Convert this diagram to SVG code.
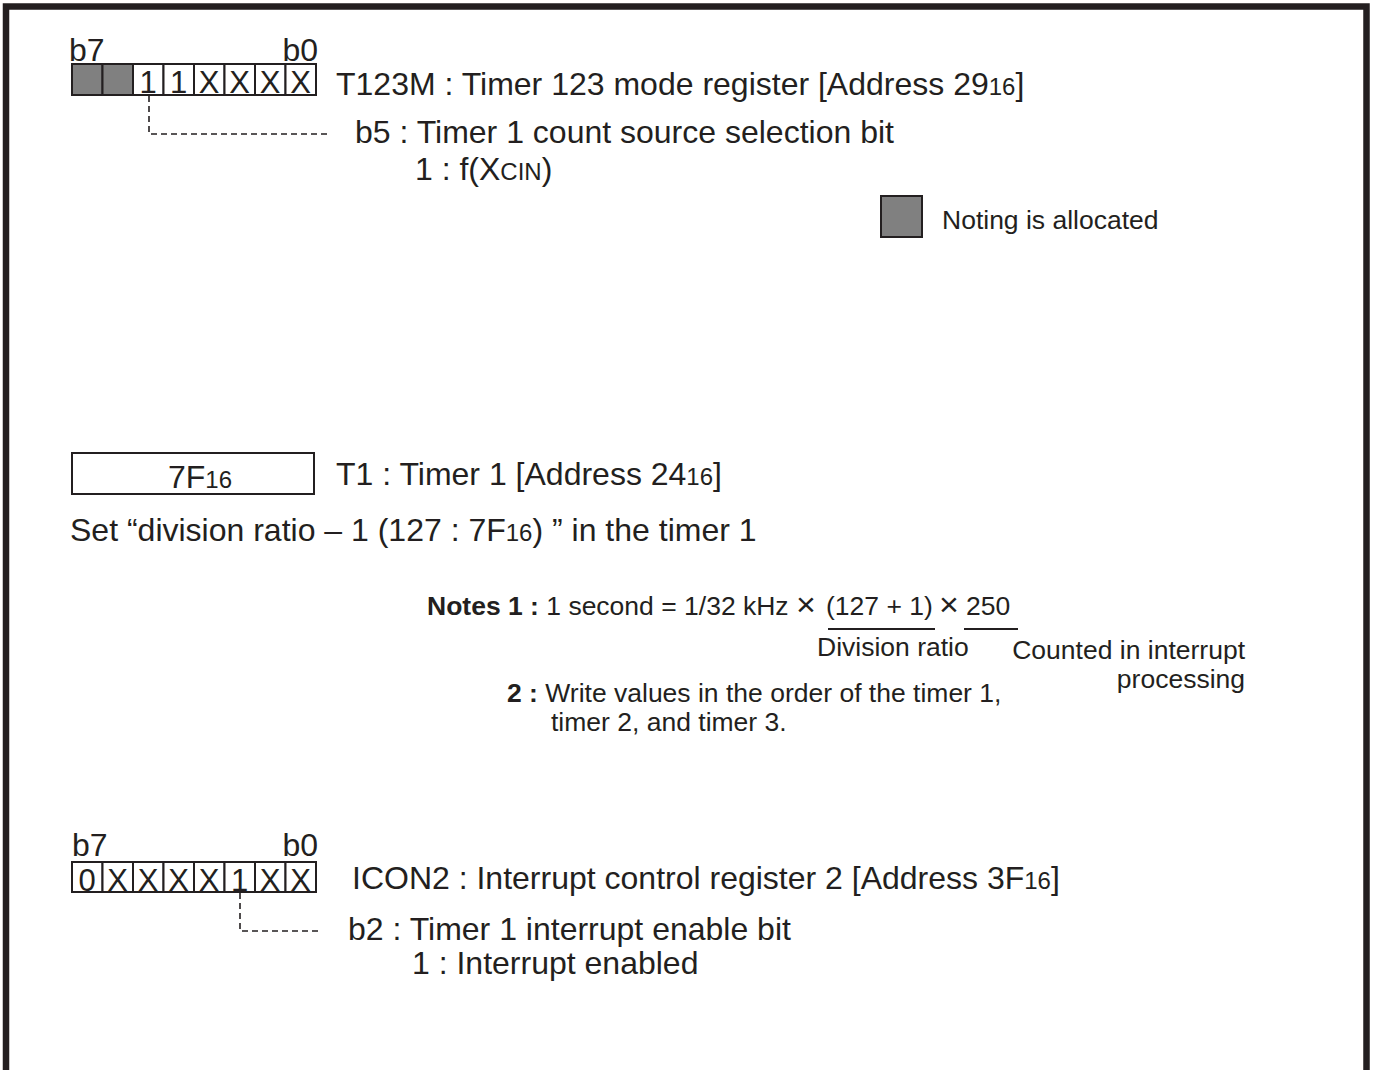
<svg xmlns="http://www.w3.org/2000/svg" width="1373" height="1070" viewBox="0 0 1373 1070">
<style>
text{font-family:"Liberation Sans",Arial,sans-serif;fill:#231f20}
.m{font-size:32px}
.n{font-size:26.5px}
.c{font-size:31px;text-anchor:middle}
.s{font-size:24px}
.b{font-weight:bold}
.x{font-size:34px}
.cell{fill:#fff;stroke:#231f20;stroke-width:2}
.g{fill:#808080;stroke:#231f20;stroke-width:2}
.d{fill:none;stroke:#231f20;stroke-width:1.6;stroke-dasharray:6 4}
</style>
<path d="M6,1070 V6.5 H1366.5 V1070" fill="none" stroke="#231f20" stroke-width="6.5"/>
<g id="t123m">
<text class="m" x="69" y="61">b7</text>
<text class="m" x="318" y="61" text-anchor="end">b0</text>
<rect class="g" x="72" y="64" width="30.5" height="31"/>
<rect class="g" x="102.5" y="64" width="30.5" height="31"/>
<rect class="cell" x="133" y="64" width="30.5" height="31"/>
<rect class="cell" x="163.5" y="64" width="30.5" height="31"/>
<rect class="cell" x="194" y="64" width="30.5" height="31"/>
<rect class="cell" x="224.5" y="64" width="30.5" height="31"/>
<rect class="cell" x="255" y="64" width="30.5" height="31"/>
<rect class="cell" x="285.5" y="64" width="30.5" height="31"/>
<text class="c" x="148.2" y="93">1</text>
<text class="c" x="178.7" y="93">1</text>
<text class="c" x="209.2" y="93">X</text>
<text class="c" x="239.7" y="93">X</text>
<text class="c" x="270.2" y="93">X</text>
<text class="c" x="300.7" y="93">X</text>
<text class="m" x="336" y="95">T123M : Timer 123 mode register [Address 29<tspan class="s">16</tspan>]</text>
<text class="m" x="355" y="143">b5 : Timer 1 count source selection bit</text>
<text class="m" x="415" y="180">1 : f(X<tspan class="s">CIN</tspan>)</text>
</g>
<g id="legend">
<rect class="g" x="881" y="196" width="41" height="41"/>
<text class="n" x="942" y="229">Noting is allocated</text>
</g>
<g id="t1">
<rect class="cell" x="72" y="453" width="242" height="41"/>
<text class="m" x="200" y="488" text-anchor="middle">7F<tspan class="s">16</tspan></text>
<text class="m" x="336" y="485">T1 : Timer 1 [Address 24<tspan class="s">16</tspan>]</text>
<text class="m" x="70" y="541">Set “division ratio – 1 (127 : 7F<tspan class="s">16</tspan>) ” in the timer 1</text>
</g>
<g id="notes">
<text class="n" x="427" y="615"><tspan class="b">Notes 1 :</tspan> 1 second = 1/32 kHz</text>
<text class="x" x="796" y="616">×</text>
<text class="n" x="826" y="615">(127 + 1)</text>
<text class="x" x="939" y="616">×</text>
<text class="n" x="966" y="615">250</text>
<text class="n" x="817" y="656">Division ratio</text>
<text class="n" x="1245" y="659" text-anchor="end">Counted in interrupt</text>
<text class="n" x="1245" y="688" text-anchor="end">processing</text>
<text class="n" x="507" y="702"><tspan class="b">2 :</tspan> Write values in the order of the timer 1,</text>
<text class="n" x="551" y="731">timer 2, and timer 3.</text>
</g>
<g id="icon2">
<text class="m" x="72" y="856">b7</text>
<text class="m" x="318" y="856" text-anchor="end">b0</text>
<rect class="cell" x="72" y="862" width="30.5" height="30"/>
<rect class="cell" x="102.5" y="862" width="30.5" height="30"/>
<rect class="cell" x="133" y="862" width="30.5" height="30"/>
<rect class="cell" x="163.5" y="862" width="30.5" height="30"/>
<rect class="cell" x="194" y="862" width="30.5" height="30"/>
<rect class="cell" x="224.5" y="862" width="30.5" height="30"/>
<rect class="cell" x="255" y="862" width="30.5" height="30"/>
<rect class="cell" x="285.5" y="862" width="30.5" height="30"/>
<text class="c" x="87.2" y="891">0</text>
<text class="c" x="117.7" y="891">X</text>
<text class="c" x="148.2" y="891">X</text>
<text class="c" x="178.7" y="891">X</text>
<text class="c" x="209.2" y="891">X</text>
<text class="c" x="239.7" y="891">1</text>
<text class="c" x="270.2" y="891">X</text>
<text class="c" x="300.7" y="891">X</text>
<text class="m" x="352" y="889">ICON2 : Interrupt control register 2 [Address 3F<tspan class="s">16</tspan>]</text>
<text class="m" x="348" y="940">b2 : Timer 1 interrupt enable bit</text>
<text class="m" x="412" y="974">1 : Interrupt enabled</text>
</g>
<g id="connectors">
<path class="d" d="M149,96 V134 H328"/>
<path class="d" d="M240,893 V931 H318" stroke-dasharray="4 4"/>
<line x1="828" y1="629" x2="935" y2="629" stroke="#231f20" stroke-width="2"/>
<line x1="964" y1="629" x2="1018" y2="629" stroke="#231f20" stroke-width="2"/>
</g>
</svg>
